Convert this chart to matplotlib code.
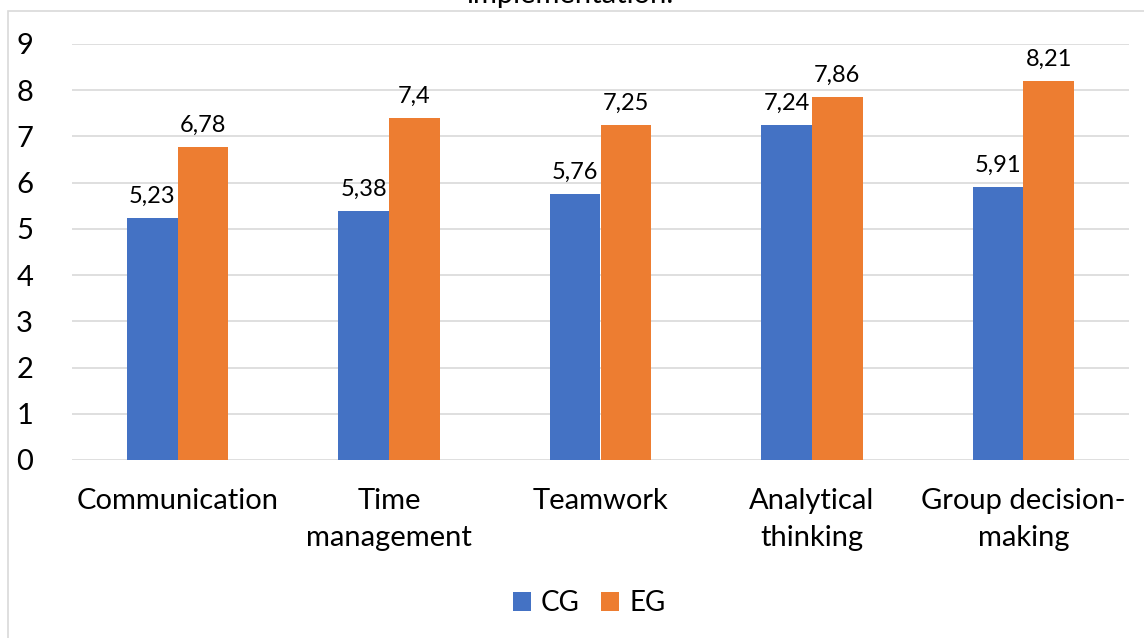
import numpy as np
import matplotlib.pyplot as plt
from matplotlib.patches import Rectangle

categories = ["Communication", "Time\nmanagement", "Teamwork", "Analytical\nthinking", "Group decision-\nmaking"]
cg = [5.23, 5.38, 5.76, 7.24, 5.91]
eg = [6.78, 7.4, 7.25, 7.86, 8.21]
cg_labels = ["5,23", "5,38", "5,76", "7,24", "5,91"]
eg_labels = ["6,78", "7,4", "7,25", "7,86", "8,21"]

plt.rcParams['font.family'] = ['Lato', 'DejaVu Sans']

W, H = 1144, 638
fig = plt.figure(figsize=(W / 100, H / 100), dpi=100)
ax = fig.add_axes([72 / W, 1 - 460 / H, (1129 - 72) / W, (460 - 44) / H])

x = np.arange(len(categories))
bw = 0.24
b1 = ax.bar(x - bw / 2, cg, bw, color='#4472C4', label='CG', zorder=3)
b2 = ax.bar(x + bw / 2, eg, bw, color='#ED7D31', label='EG', zorder=3)

for bars, labs in ((b1, cg_labels), (b2, eg_labels)):
    for rect, lab in zip(bars, labs):
        ax.annotate(lab, (rect.get_x() + rect.get_width() / 2, rect.get_height()),
                    xytext=(0, 8), textcoords='offset points', ha='center', va='bottom',
                    fontsize=17, color='#000000')

ax.set_xlim(-0.5, len(categories) - 0.5)
ax.set_ylim(0, 9)
ax.set_yticks(range(10))
ax.set_xticks(x)
ax.set_xticklabels(categories, fontsize=21, linespacing=1.55)
ax.tick_params(axis='y', length=0, pad=28, labelsize=21)
ax.tick_params(axis='x', length=0, pad=20)
ax.grid(axis='y', color='#D9D9D9', linewidth=1.2, zorder=0)
for s in ax.spines.values():
    s.set_visible(False)

fig.legend(handles=[b1, b2], loc='center', bbox_to_anchor=(589 / W, 1 - 603 / H),
           ncol=2, frameon=False, fontsize=20, handlelength=0.65, handleheight=0.65,
           handletextpad=0.35, columnspacing=0.8)

fig.patches.append(Rectangle((8 / W, -0.1), 1.2, 1 - 11 / H + 0.1, transform=fig.transFigure,
                             fill=False, edgecolor='#D9D9D9', linewidth=1.2))
fig.text(570 / W, 1 - 3 / H, "implementation.", ha='center', va='baseline', fontsize=21)

fig.savefig('out.png', dpi=100)
